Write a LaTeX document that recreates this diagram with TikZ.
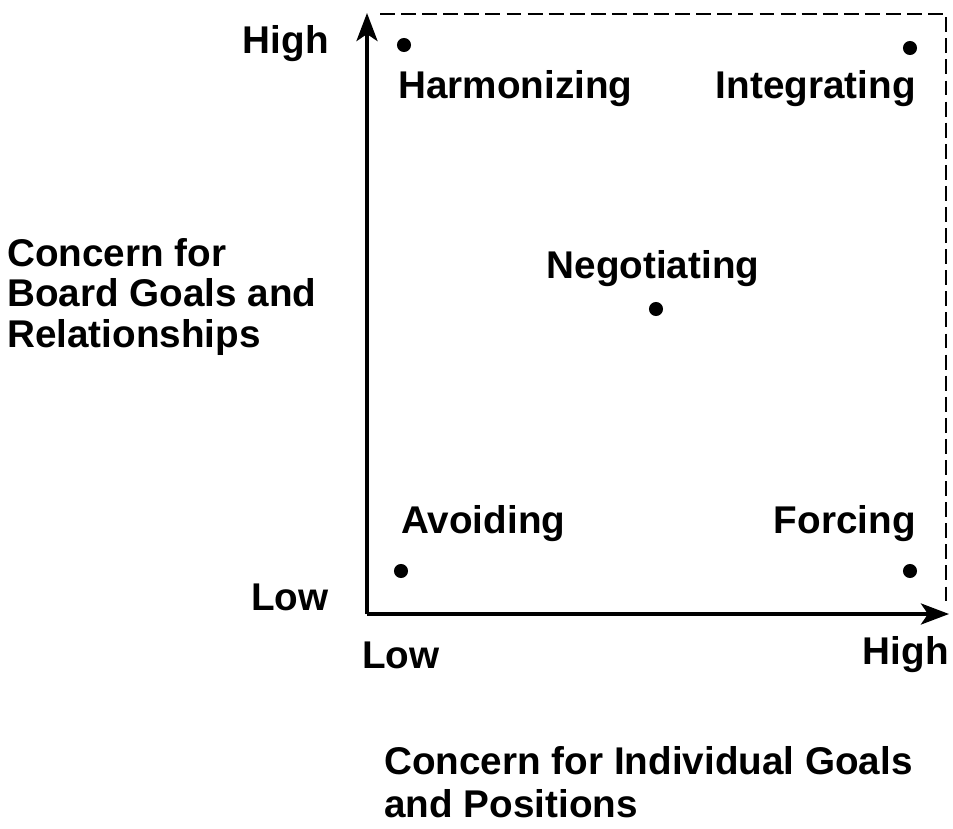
\documentclass[tikz,border=0pt]{standalone}
\usepackage{fontspec}
\setmainfont{Liberation Sans}
\usetikzlibrary{arrows.meta}
\begin{document}
\begin{tikzpicture}[x=0.02cm, y=-0.02cm]
  \tikzstyle{dot}=[circle, fill, minimum size=8pt, inner sep=0pt]
  \tikzstyle{lbl}=[inner sep=0pt, font=\fontsize{22}{26}\selectfont\bfseries]
  \tikzstyle{axis}=[line width=1.9pt, -{Stealth[length=16pt, width=12pt, inset=4pt]}]
  \tikzstyle{frame}=[line width=1.5pt, dash pattern=on 8.5pt off 3.5pt]

  \useasboundingbox (0,0) rectangle (953,828);

  % axes and frame
  \coordinate (o)  at (367,614);
  \coordinate (yt) at (367,13);
  \coordinate (xt) at (949,614);
  \coordinate (fl) at (380,14);
  \coordinate (fc) at (946,14);
  \coordinate (fb) at (946,604);

  \draw[axis] (o) -- (yt);
  \draw[axis] (o) -- (xt);
  \draw[frame] (fl) -- (fc) -- (fb);

  % styles
  \node[dot] (harm)  at (404,45)  {};
  \node[dot] (integ) at (910,48)  {};
  \node[dot] (nego)  at (656,309) {};
  \node[dot] (avoid) at (401,571) {};
  \node[dot] (force) at (910,571) {};

  \node[lbl, anchor=west] (harml)  at (398,89)  {Harmonizing};
  \node[lbl, anchor=east] (integl) at (916,89)  {Integrating};
  \node[lbl]              (negol)  at (653,269) {Negotiating};
  \node[lbl, anchor=west] (avoidl) at (401,524) {Avoiding};
  \node[lbl, anchor=east] (forcel) at (916,524) {Forcing};

  % scale labels
  \node[lbl, anchor=east] (yhigh) at (329,44)  {High};
  \node[lbl, anchor=east] (ylow)  at (329,597) {Low};
  \node[lbl, anchor=west] (xlow)  at (362,655) {Low};
  \node[lbl, anchor=east] (xhigh) at (949,655) {High};

  % axis titles
  \node[lbl, anchor=west, align=left, font=\fontsize{22}{23}\selectfont\bfseries]
    (ytitle) at (7,297) {Concern for\\Board Goals and\\Relationships};
  \node[lbl, anchor=west, align=left, font=\fontsize{22}{24.4}\selectfont\bfseries]
    (xtitle) at (384,782) {Concern for Individual Goals\\and Positions};
\end{tikzpicture}
\end{document}
